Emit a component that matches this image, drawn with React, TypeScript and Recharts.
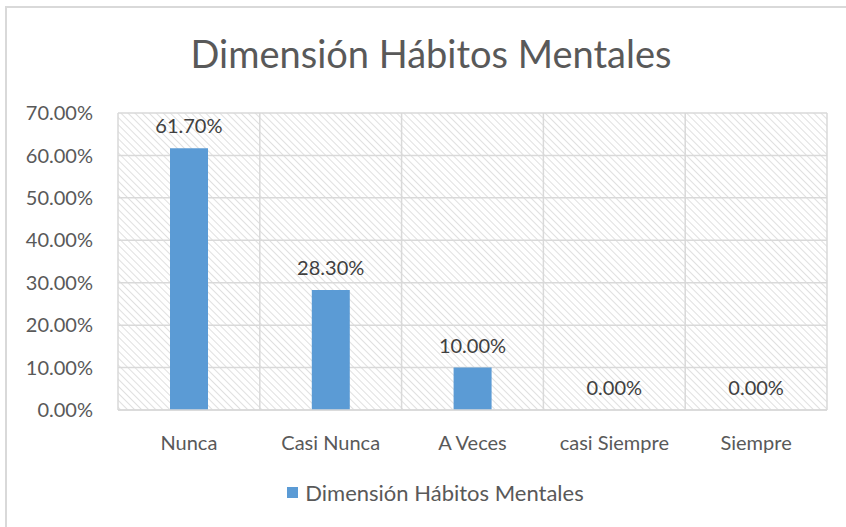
import React from "react";
import {
  ComposedChart,
  Bar,
  Line,
  XAxis,
  YAxis,
  CartesianGrid,
  Legend,
  LabelList,
} from "recharts";

const categories = ["Nunca", "Casi Nunca", "A Veces", "casi Siempre", "Siempre"];
const values = [61.7, 28.3, 10.0, 0.0, 0.0];
const yTicks = [0, 10, 20, 30, 40, 50, 60, 70];
const gridTicks = [0, 1, 2, 3, 4, 5];
const seriesName = "Dimensión Hábitos Mentales";

const FONT = "Lato, 'Open Sans', sans-serif";
const TEXT = "#595959";
const GRID = "#d9d9d9";
const BAR = "#5b9bd5";

const data = categories.map((c, i) => ({ name: c, value: values[i], idx: i + 0.5 }));

const pct = (v: number) => `${Number(v).toFixed(2)}%`;

function LegendBox() {
  return (
    <div
      style={{
        display: "flex",
        justifyContent: "center",
        alignItems: "center",
        fontFamily: FONT,
        fontSize: 22,
        color: TEXT,
        paddingLeft: 44,
      }}
    >
      <span style={{ width: 11, height: 11, background: BAR, marginRight: 7 }} />
      <span>{seriesName}</span>
    </div>
  );
}

export default function App() {
  return (
    <div style={{ position: "absolute", left: 0, top: 0, width: 846, height: 527, background: "#fff", overflow: "hidden" }}>
      <svg width={0} height={0} style={{ position: "absolute" }}>
        <defs>
          <pattern id="hatch" patternUnits="userSpaceOnUse" width={5} height={5} patternTransform="rotate(-45)">
            <rect width={5} height={5} fill="#fff" />
            <line x1={0} y1={0} x2={0} y2={5} stroke="#cfcfcf" strokeWidth={1.3} />
          </pattern>
        </defs>
      </svg>
      <div
        style={{
          position: "absolute",
          left: 5,
          top: 6,
          width: 900,
          height: 600,
          border: "2px solid #d9d9d9",
          boxSizing: "border-box",
        }}
      />
      <div
        style={{
          position: "absolute",
          left: 8,
          top: 30,
          width: 846,
          textAlign: "center",
          fontFamily: FONT,
          fontSize: 38,
          color: TEXT,
        }}
      >
        {seriesName}
      </div>
      <div style={{ position: "absolute", left: 0, top: 0 }}>
        <ComposedChart width={846} height={527} data={data} margin={{ top: 113, right: 19, bottom: 0, left: 0 }}>
          <XAxis xAxisId="grid" type="number" dataKey="idx" domain={[0, 5]} ticks={gridTicks} hide />
          <CartesianGrid xAxisId="grid" stroke={GRID} strokeWidth={1.5} fill="url(#hatch)" fillOpacity={1} />
          <XAxis
            dataKey="name"
            tickLine={false}
            axisLine={{ stroke: GRID, strokeWidth: 1.5 }}
            tick={{ fill: TEXT, fontSize: 20, fontFamily: FONT }}
            tickMargin={20}
            height={60}
          />
          <YAxis
            domain={[0, 70]}
            ticks={yTicks}
            tickFormatter={pct}
            axisLine={false}
            tickLine={false}
            tickSize={0}
            tickMargin={25}
            width={118}
            tick={{ fill: TEXT, fontSize: 20, fontFamily: FONT }}
          />
          <Legend verticalAlign="bottom" height={57} content={() => <LegendBox />} wrapperStyle={{ top: 479, bottom: "auto", paddingTop: 0 }} />
          <Bar dataKey="value" name={seriesName} fill={BAR} barSize={38} isAnimationActive={false} />
          <Line
            dataKey="value"
            stroke="none"
            dot={false}
            activeDot={false}
            legendType="none"
            isAnimationActive={false}
          >
            <LabelList dataKey="value" position="top" offset={15} formatter={(v: any) => pct(v)} fill="#404040" fontSize={20} fontFamily={FONT} />
          </Line>
        </ComposedChart>
      </div>
    </div>
  );
}
